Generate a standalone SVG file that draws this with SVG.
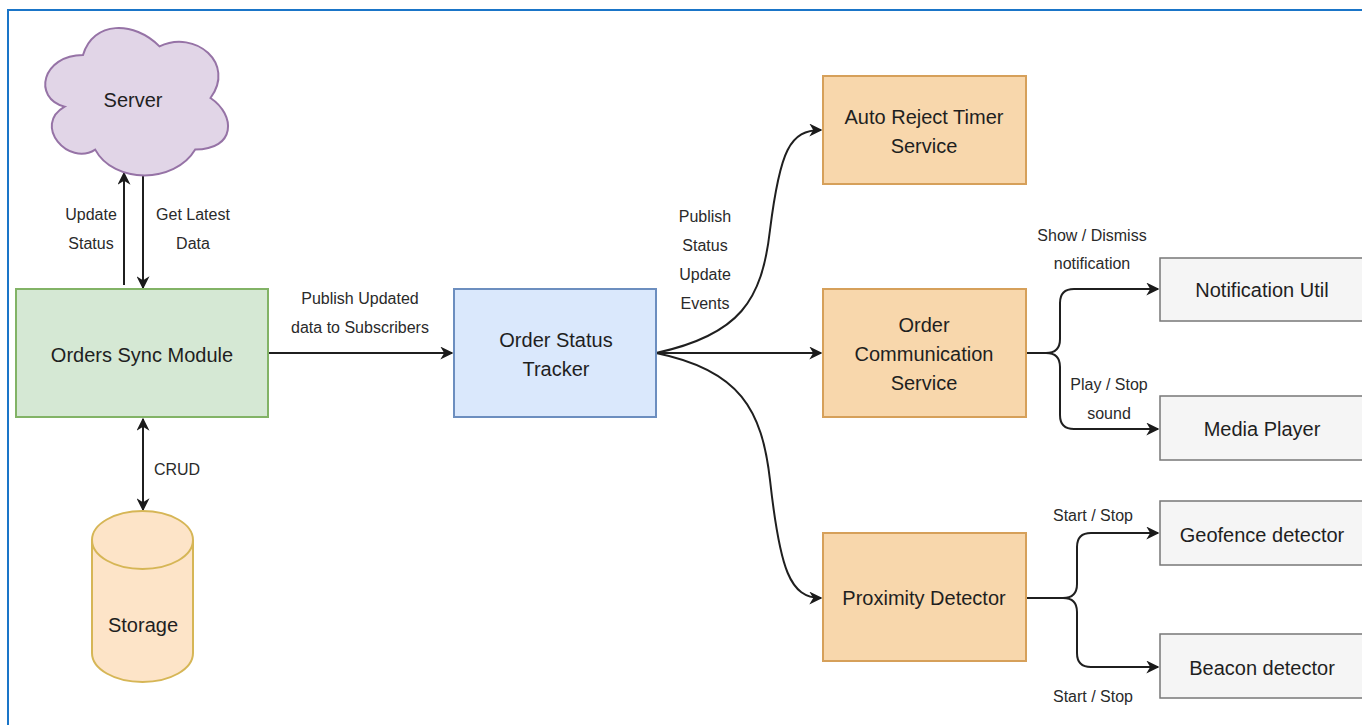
<svg xmlns="http://www.w3.org/2000/svg" width="1362" height="725" viewBox="0 0 1362 725">
<defs>
<marker id="arr" viewBox="0 0 10 10" refX="9" refY="5" markerWidth="13" markerHeight="13" markerUnits="userSpaceOnUse" orient="auto-start-reverse">
<path d="M0,0 L10,5 L0,10 L3,5 Z" fill="#1a1a1a"/>
</marker>
<style>
.t{font-family:"Liberation Sans",Arial,sans-serif;font-size:20px;fill:#1f1f1f;text-anchor:middle;dominant-baseline:central}
.l{font-family:"Liberation Sans",Arial,sans-serif;font-size:16px;fill:#2a2a2a;text-anchor:middle;dominant-baseline:central}
.ca{fill:none;stroke:#1f1f1f;stroke-width:2;marker-end:url(#arr)}
.orange{fill:#f8d7ac;stroke:#d6a05a;stroke-width:2}
.grey{fill:#f5f5f5;stroke:#777;stroke-width:1.5}
</style>
</defs>
<rect width="1362" height="725" fill="#ffffff"/>
<path d="M8,725 L8,10 L1362,10" fill="none" stroke="#1a75c8" stroke-width="2"/>

<g id="connectors">
<line class="ca" x1="124" y1="285" x2="124" y2="173"/>
<line class="ca" x1="143" y1="176" x2="143" y2="288"/>
<line class="ca" x1="143" y1="419" x2="143" y2="510" style="marker-start:url(#arr)"/>
<line class="ca" x1="268" y1="353" x2="452" y2="353"/>
<path class="ca" d="M656,353 C740,335 762,300 770,230 C780,150 790,130 821,130"/>
<line class="ca" x1="656" y1="353" x2="821" y2="353"/>
<path class="ca" d="M656,353 C740,370 762,410 770,480 C780,570 790,598 821,598"/>
<path class="ca" d="M1026,353 L1046,353 Q1060,353 1060,339 L1060,303 Q1060,289 1074,289 L1158,289"/>
<path class="ca" d="M1046,353 Q1060,353 1060,367 L1060,415 Q1060,429 1074,429 L1158,429"/>
<path class="ca" d="M1026,598 L1063,598 Q1077,598 1077,584 L1077,547 Q1077,533 1091,533 L1158,533"/>
<path class="ca" d="M1063,598 Q1077,598 1077,612 L1077,653 Q1077,667 1091,667 L1158,667"/>
<text class="l" x="91" y="214">Update</text>
<text class="l" x="91" y="243">Status</text>
<text class="l" x="193" y="214">Get Latest</text>
<text class="l" x="193" y="243">Data</text>
<text class="l" x="177" y="469">CRUD</text>
<text class="l" x="360" y="298">Publish Updated</text>
<text class="l" x="360" y="327">data to Subscribers</text>
<text class="l" x="705" y="216">Publish</text>
<text class="l" x="705" y="245">Status</text>
<text class="l" x="705" y="274">Update</text>
<text class="l" x="705" y="303">Events</text>
<text class="l" x="1092" y="235">Show / Dismiss</text>
<text class="l" x="1092" y="263">notification</text>
<text class="l" x="1109" y="384">Play / Stop</text>
<text class="l" x="1109" y="413">sound</text>
<text class="l" x="1093" y="515">Start / Stop</text>
<text class="l" x="1093" y="696">Start / Stop</text>
</g>

<g id="server">
<path d="M83,55 C42.2,55 32,98 64.6,106.6 C32,125.5 68.7,166.8 95.2,149.6 C113.6,184 174.8,184 195.2,149.6 C236,149.6 236,115.2 210.5,98 C236,63.6 195.2,29.2 159.5,46.4 C134,20.6 93.2,20.6 83,55 Z" fill="#e1d5e7" stroke="#9673a6" stroke-width="2"/>
<text class="t" x="133" y="100">Server</text>
</g>

<g id="orders-sync">
<rect x="16" y="289" width="252" height="128" fill="#d5e8d4" stroke="#82b366" stroke-width="2"/>
<text class="t" x="142" y="355">Orders Sync Module</text>
</g>

<g id="storage">
<path d="M92,540 A50.5,29 0 0 1 193,540 L193,653 A50.5,29 0 0 1 92,653 Z" fill="#fde4c8" stroke="#d6b656" stroke-width="2"/>
<path d="M92,540 A50.5,29 0 0 0 193,540" fill="none" stroke="#d6b656" stroke-width="2"/>
<text class="t" x="143" y="625">Storage</text>
</g>

<g id="order-status-tracker">
<rect x="454" y="289" width="202" height="128" fill="#dae8fc" stroke="#6c8ebf" stroke-width="2"/>
<text class="t" x="556" y="340">Order Status</text>
<text class="t" x="556" y="369">Tracker</text>
</g>

<g id="auto-reject">
<rect class="orange" x="823" y="76" width="203" height="108"/>
<text class="t" x="924" y="117">Auto Reject Timer</text>
<text class="t" x="924" y="146">Service</text>
</g>

<g id="order-communication">
<rect class="orange" x="823" y="289" width="203" height="128"/>
<text class="t" x="924" y="325">Order</text>
<text class="t" x="924" y="354">Communication</text>
<text class="t" x="924" y="383">Service</text>
</g>

<g id="proximity">
<rect class="orange" x="823" y="533" width="203" height="128"/>
<text class="t" x="924" y="598">Proximity Detector</text>
</g>

<g id="notification-util">
<rect class="grey" x="1160" y="258" width="204" height="63"/>
<text class="t" x="1262" y="290">Notification Util</text>
</g>

<g id="media-player">
<rect class="grey" x="1160" y="396" width="204" height="64"/>
<text class="t" x="1262" y="429">Media Player</text>
</g>

<g id="geofence">
<rect class="grey" x="1160" y="501" width="204" height="64"/>
<text class="t" x="1262" y="535">Geofence detector</text>
</g>

<g id="beacon">
<rect class="grey" x="1160" y="634" width="204" height="64"/>
<text class="t" x="1262" y="668">Beacon detector</text>
</g>
</svg>
